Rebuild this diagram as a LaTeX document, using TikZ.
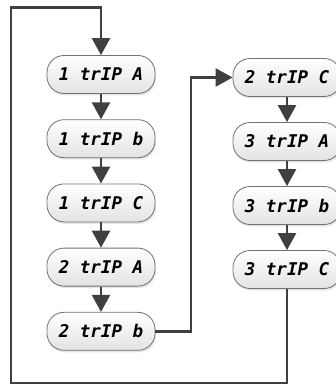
\documentclass[tikz,border=0pt]{standalone}
\usepackage{fontspec}
\usetikzlibrary{arrows.meta,shadows}
\newfontfamily\segfont{DejaVu Sans Mono}
\definecolor{linegray}{HTML}{404040}
\definecolor{rimgray}{HTML}{707070}

\begin{document}
\begin{tikzpicture}[x=1pt,y=-1pt,
	font=\segfont\bfseries\itshape\fontsize{17.5}{17.5}\selectfont,
	>={Triangle[length=17pt,width=18pt]},
	trip/.style={rectangle, rounded corners=17pt, draw=rimgray, line width=0.8pt,
		minimum width=108pt, minimum height=38pt, inner sep=0pt,
		top color=white, bottom color=gray!22,
		drop shadow={opacity=0.2,shadow xshift=1pt,shadow yshift=-2pt}},
	link/.style={draw=linegray, line width=2.5pt}]
	
	\useasboundingbox (0,0) rectangle (335,385);
	
	%----------------------------
	% Left column: trips 1A ... 2b
	%----------------------------
	\foreach \txt [count=\i] in {1 trIP A, 1 trIP b, 1 trIP C, 2 trIP A, 2 trIP b}
	\node[trip] (L\i) at (101,{74.5+64.2*(\i-1)}) {\txt};
	
	\foreach \i/\j in {1/2, 2/3, 3/4, 4/5}
	\draw[link,->] (L\i) -- (L\j);
	
	%----------------------------
	% Right column: trips 2C ... 3C
	%----------------------------
	\foreach \txt [count=\i] in {2 trIP C, 3 trIP A, 3 trIP b, 3 trIP C}
	\node[trip] (R\i) at (287,{77.5+64*(\i-1)}) {\txt};
	
	\foreach \i/\j in {1/2, 2/3, 3/4}
	\draw[link,->] (R\i) -- (R\j);
	
	%----------------------------
	% Return paths
	%----------------------------
	% 2b -> 2C
	\coordinate (jog) at (191,0);
	\draw[link,->] (L5.east) -| (jog |- R1.west) -- (R1.west);
	
	% 3C -> back to 1A
	\coordinate (bl) at (11,383);
	\coordinate (tl) at (11,7.5);
	\draw[link,->] (R4.south) |- (bl) -- (tl) -| (L1.north);
	
\end{tikzpicture}
\end{document}
